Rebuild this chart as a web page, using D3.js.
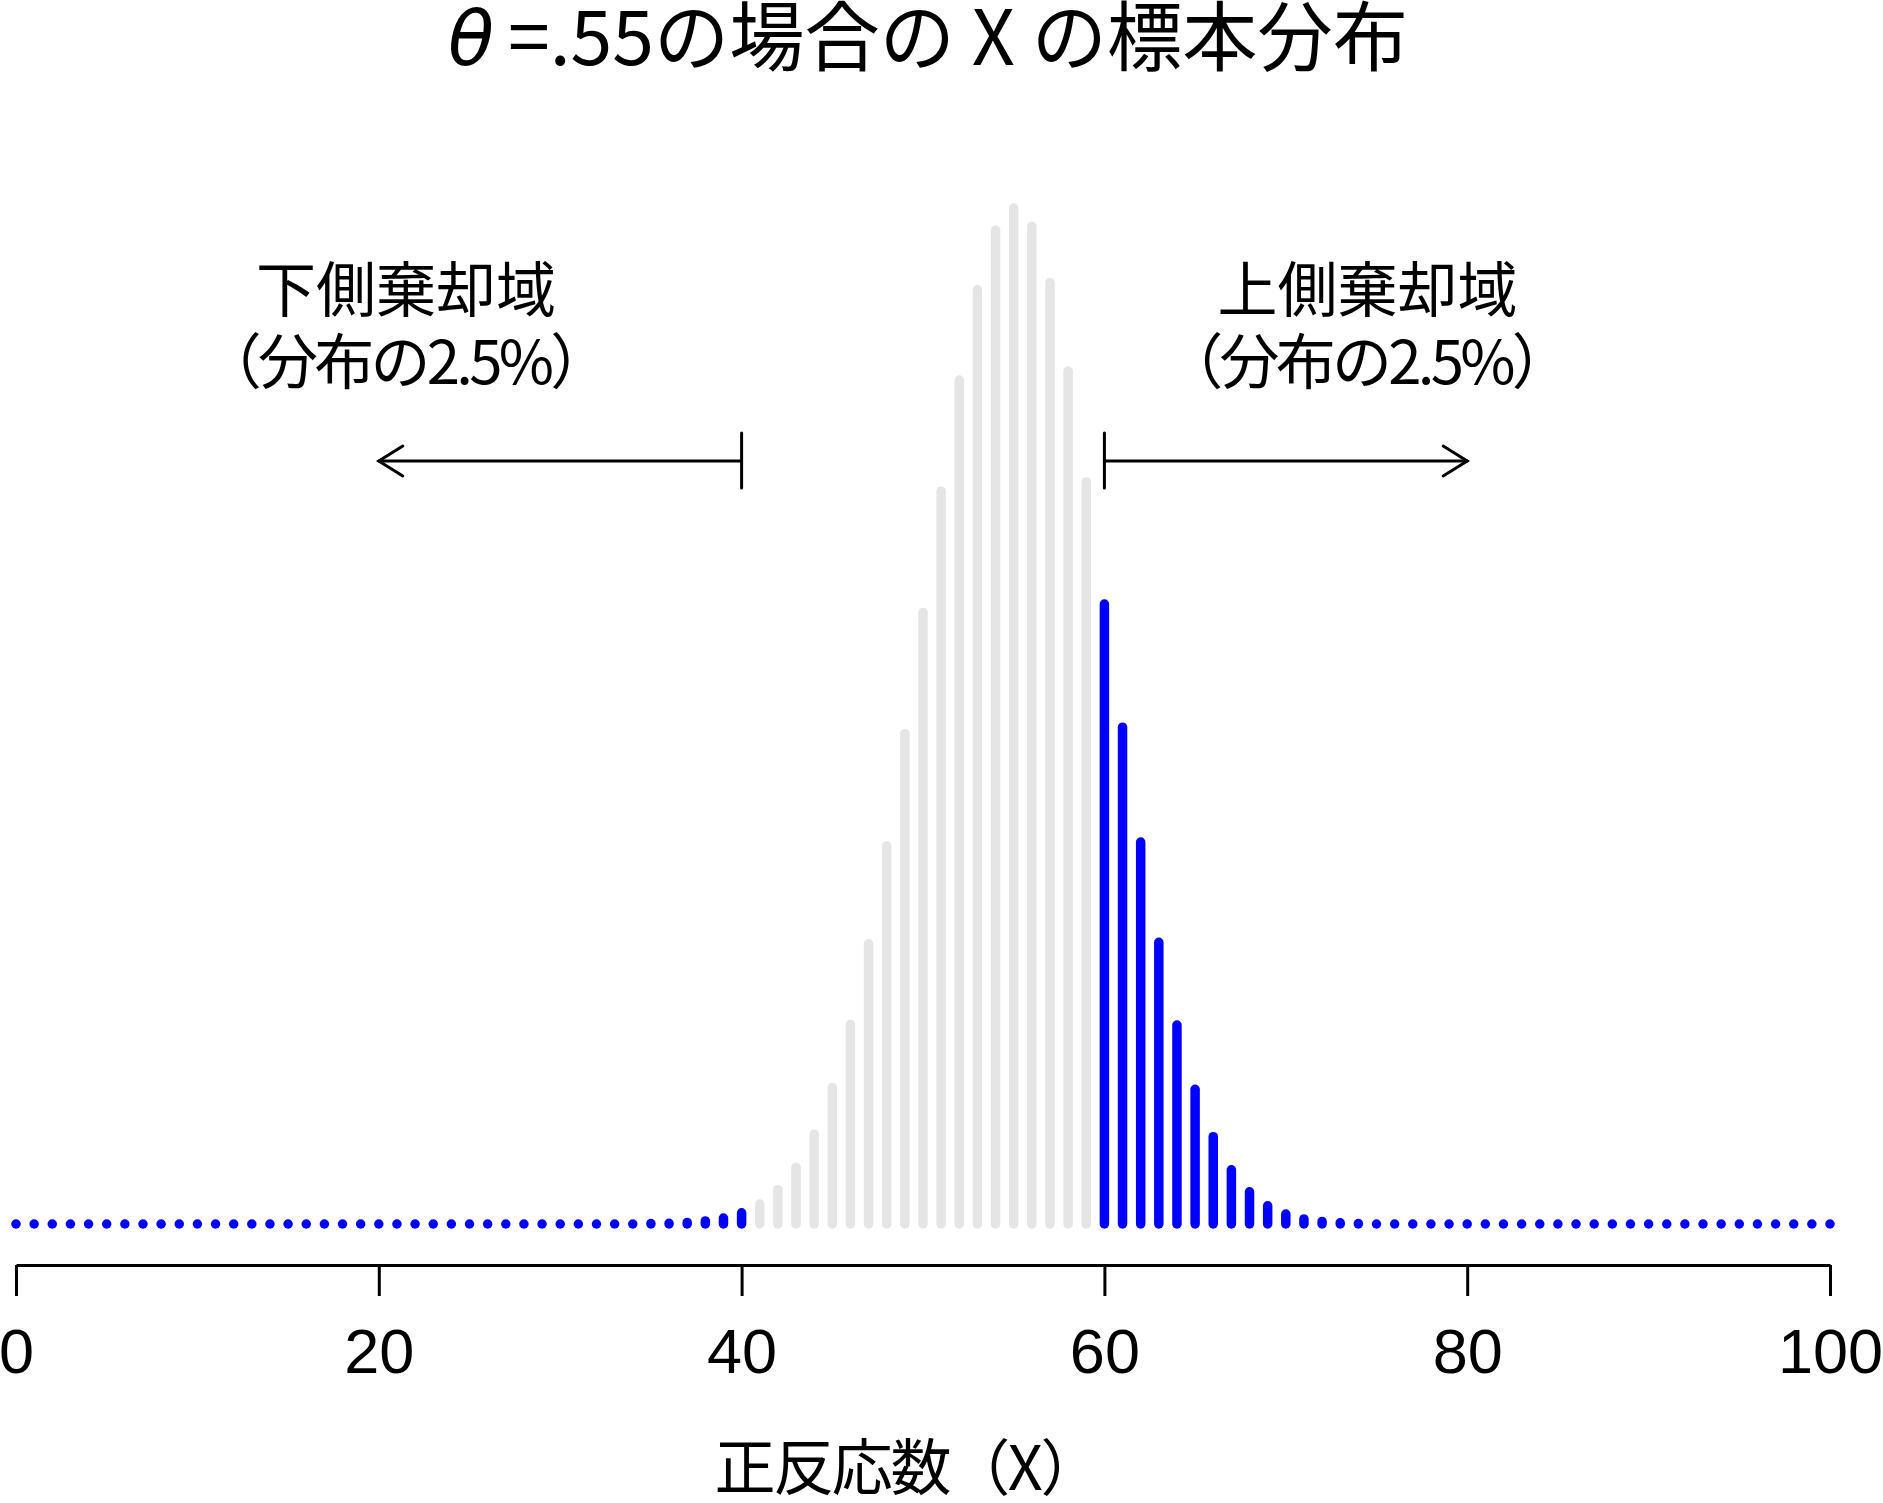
<!DOCTYPE html>
<html>
<head>
<meta charset="utf-8">
<script src="https://cdn.jsdelivr.net/npm/d3@7"></script>
<style>
  html, body { margin: 0; padding: 0; background: #fff; }
  svg { display: block; }
</style>
</head>
<body>
<svg id="chart" width="1883" height="1503"></svg>
<script>
// ---- data ----
const xCategories = d3.range(0, 101);
const probabilities = [
  0,0,0,0,0,0,0,0,0,0,
  0,0,0,0,0,0,0,0,0,0,
  0,0,0,0,0,0,0,0,0,0,
  0,0,0,0,0,
  0.00003,0.00006,0.00012,0.00024,0.00047,
  0.00088,0.00157,0.00270,0.00446,0.00706,
  0.01074,0.01569,0.02204,0.02974,0.03858,
  0.04809,0.05763,0.06637,0.07347,0.07815,
  0.07989,0.07846,0.07403,0.06708,0.05836,
  0.04875,0.03907,0.03004,0.02215,0.01565,
  0.01059,0.00687,0.00426,0.00253,0.00143,
  0.00078,0.00040,0.00020,0.00009,0.00004,
  0,0,0,0,0,0,0,0,0,0,
  0,0,0,0,0,0,0,0,0,0,
  0,0,0,0,0,0
];
const lowerCritical = 40;
const upperCritical = 60;
const xTicks = [0, 20, 40, 60, 80, 100];
const titleTheta = "θ";
const titleRest = "=.55の場合の X の標本分布";
const xAxisTitle = "正反応数（X）";
const labelLine1Lower = "下側棄却域";
const labelLine1Upper = "上側棄却域";
const labelLine2 = "（分布の2.5%）";
const lowerArrow = [40, 20];
const upperArrow = [60, 80];
const lowerLabelX = 21.5;
const upperLabelX = 74.5;

// ---- layout ----
const svg = d3.select("#chart");
const x = d3.scaleLinear().domain([0, 100]).range([16, 1830]);
const y = d3.scaleLinear().domain([0, 0.08]).range([1224, 206.7]);
const JP = "'Noto Sans CJK JP', 'Noto Sans', sans-serif";

// bars
svg.append("g").selectAll("path")
  .data(xCategories)
  .join("path")
  .attr("d", d => `M${x(d)},${y(0)}L${x(d)},${y(probabilities[d])}`)
  .attr("stroke", d => (d <= lowerCritical || d >= upperCritical) ? "#0000FF" : "#E5E5E5")
  .attr("stroke-width", 9.5)
  .attr("stroke-linecap", "round")
  .attr("fill", "none");

// axis
const axis = d3.axisBottom(x).tickValues(xTicks).tickSize(31).tickSizeOuter(0).tickPadding(31);
const gAxis = svg.append("g").attr("transform", "translate(0,1265)").call(axis);
gAxis.select(".domain").attr("stroke", "#000").attr("stroke-width", 3);
gAxis.selectAll(".tick line").attr("stroke", "#000").attr("stroke-width", 3);
gAxis.selectAll(".tick text")
  .attr("fill", "#000")
  .attr("font-family", "'Liberation Sans', Arial, sans-serif")
  .attr("font-size", 63)
  .attr("dy", null)
  .attr("y", 108);

// arrows
function drawArrow(pair) {
  const g = svg.append("g").attr("stroke", "#000").attr("stroke-width", 3).attr("fill", "none")
    .attr("stroke-linecap", "round");
  const yA = 461;
  const x0 = x(pair[0]), x1 = x(pair[1]);
  g.append("line").attr("x1", x0).attr("x2", x0).attr("y1", 433).attr("y2", 488);
  g.append("line").attr("x1", x0).attr("x2", x1).attr("y1", yA).attr("y2", yA);
  const dir = Math.sign(x1 - x0);
  const hl = 24, hh = 15;
  g.append("path").attr("d", `M${x1 - dir * hl},${yA - hh}L${x1},${yA}L${x1 - dir * hl},${yA + hh}`)
    .attr("stroke-linejoin", "miter");
}
drawArrow(lowerArrow);
drawArrow(upperArrow);

// labels
function drawLabel(line1, xv) {
  const t = svg.append("g").attr("font-family", JP).attr("font-size", 60).attr("fill", "#000")
    .attr("text-anchor", "middle");
  t.append("text").attr("x", x(xv)).attr("y", 312).text(line1);
  const t2 = t.append("text").attr("x", x(xv)).attr("y", 384).text(labelLine2);
  const nat = t2.node().getComputedTextLength();
  t2.attr("textLength", nat - 30).attr("lengthAdjust", "spacing");
}
drawLabel(labelLine1Lower, lowerLabelX);
drawLabel(labelLine1Upper, upperLabelX);

// title
const title = svg.append("text")
  .attr("font-family", JP).attr("font-size", 76).attr("fill", "#000")
  .attr("text-anchor", "middle").attr("x", 0).attr("y", 0);
title.append("tspan").attr("font-style", "italic").attr("font-family", "'DejaVu Sans', sans-serif").text(titleTheta);
title.append("tspan").attr("dx", 14).text(titleRest);
const tw = title.node().getBBox().width;
title.attr("transform", `translate(928,65) scale(${960 / tw},1)`);

// x axis title
const xt = svg.append("text")
  .attr("font-family", JP).attr("font-size", 61).attr("fill", "#000")
  .attr("text-anchor", "middle").attr("x", 908).attr("y", 1490)
  .text(xAxisTitle);
const xtNat = xt.node().getComputedTextLength();
xt.attr("textLength", xtNat - 14).attr("lengthAdjust", "spacing");
</script>
</body>
</html>
